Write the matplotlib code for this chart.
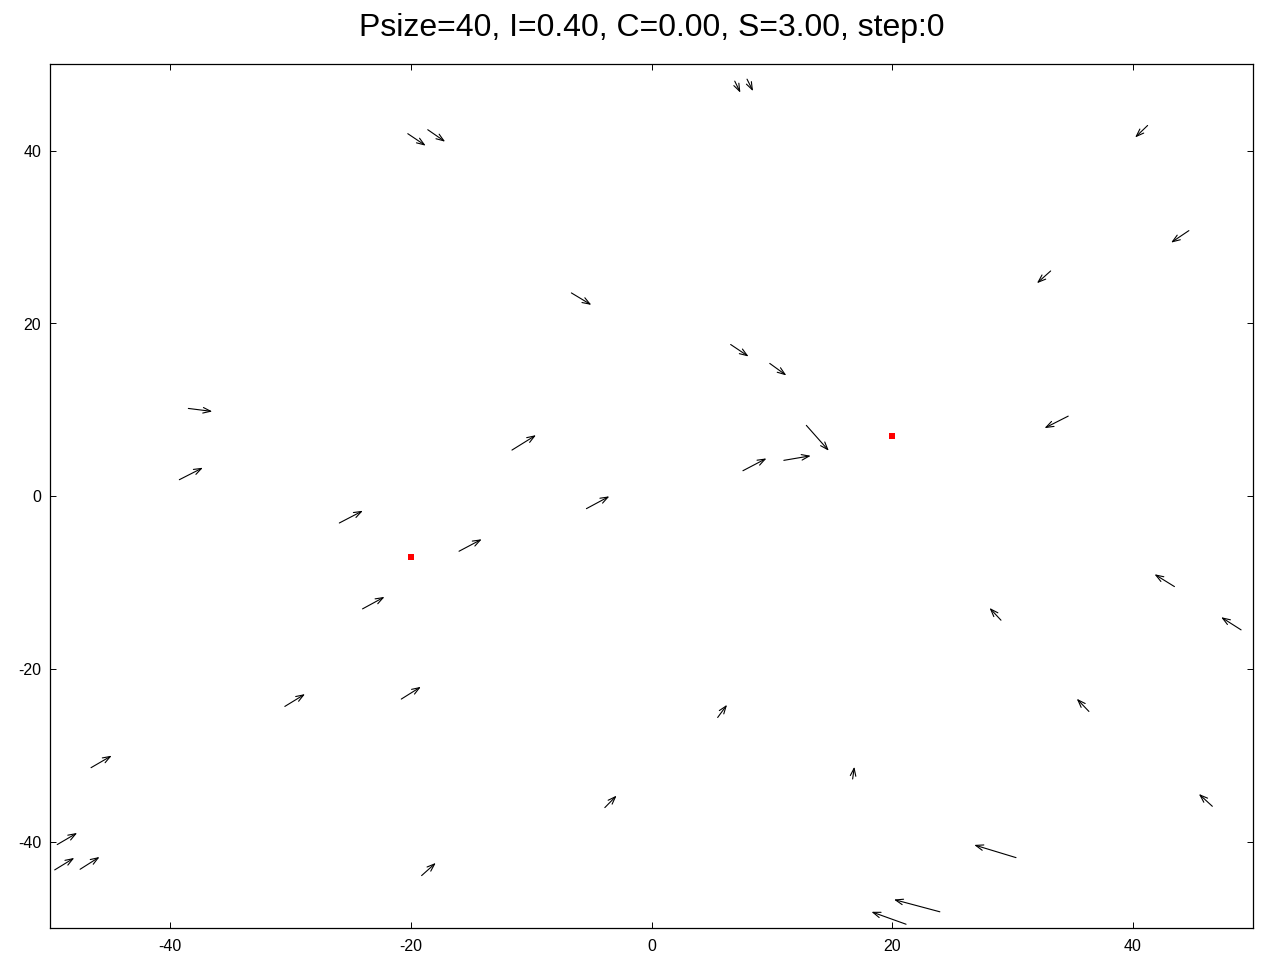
import matplotlib
matplotlib.use("Agg")
import matplotlib.pyplot as plt

plt.rcParams['font.family'] = ['Liberation Sans', 'DejaVu Sans']
plt.rcParams['axes.unicode_minus'] = False

title_text = "Psize=40, I=0.40, C=0.00, S=3.00, step:0"

# arrow tails
tail_x = [-20.26, -18.60, 6.92, 7.94, 41.24, 44.67, 33.18, -6.66, 6.58, 9.83,
          -38.50, 34.64, 12.87, -11.60, -39.25, 7.60, 11.00, -5.41, -25.95, -16.00,
          -24.02, 43.47, 29.05, 49.01, -30.48, -20.80, 36.36, 5.50, -46.59, 16.72,
          -3.88, 46.62, -49.40, 30.30, -49.61, -47.50, -19.11, 23.97, 21.16]
tail_y = [41.97, 42.43, 48.05, 48.28, 42.92, 30.75, 26.08, 23.54, 17.57, 15.38,
          10.17, 9.28, 8.21, 5.35, 1.92, 2.96, 4.16, -1.43, -3.09, -6.36,
          -13.03, -10.45, -14.34, -15.46, -24.32, -23.47, -24.90, -25.60, -31.41, -32.72,
          -36.03, -35.88, -40.31, -41.82, -43.24, -43.17, -43.90, -48.09, -49.53]
# arrow components
vec_dx = [1.49, 1.45, 0.47, 0.50, -1.04, -1.48, -1.14, 1.66, 1.49, 1.38,
          1.99, -1.97, 1.87, 2.00, 1.96, 1.96, 2.24, 1.91, 1.96, 1.89,
          1.83, -1.66, -0.95, -1.66, 1.68, 1.63, -1.01, 0.78, 1.72, 0.14,
          0.98, -1.12, 1.66, -3.48, 1.63, 1.62, 1.18, -3.82, -2.88]
vec_dy = [-1.39, -1.39, -1.34, -1.39, -1.39, -1.39, -1.42, -1.39, -1.39, -1.39,
          -0.35, -1.39, -2.94, 1.73, 1.39, 1.43, 0.53, 1.43, 1.42, 1.39,
          1.39, 1.43, 1.42, 1.47, 1.43, 1.42, 1.47, 1.47, 1.39, 1.42,
          1.39, 1.43, 1.35, 1.47, 1.39, 1.43, 1.47, 1.42, 1.44]

# red points
point_x = [20, -20]
point_y = [7, -7]

x_ticks = [-40, -20, 0, 20, 40]
y_ticks = [-40, -20, 0, 20, 40]

fig = plt.figure(figsize=(12.8, 9.6), dpi=100)
ax = fig.add_axes([50/1280, 1 - 928.3/960, (1253 - 50)/1280, (928.3 - 64.3)/960])
ax.set_xlim(-50, 50)
ax.set_ylim(-50, 50)

for x0, y0, dx, dy in zip(tail_x, tail_y, vec_dx, vec_dy):
    ax.annotate("", xy=(x0 + dx, y0 + dy), xytext=(x0, y0), xycoords='data',
                textcoords='data',
                arrowprops=dict(arrowstyle='->,head_length=0.55,head_width=0.2',
                                color='black', lw=0.8, shrinkA=0, shrinkB=0))

ax.plot(point_x, point_y, linestyle='none', marker='s', markersize=5,
        markerfacecolor='red', markeredgecolor='red', markeredgewidth=0)

ax.set_xticks(x_ticks)
ax.set_yticks(y_ticks)
ax.tick_params(direction='in', length=4.3, width=0.7, top=True, right=True,
               labelsize=11.5, colors='black')
ax.tick_params(axis='x', pad=7.5)
ax.tick_params(axis='y', pad=6.3)
for s in ax.spines.values():
    s.set_linewidth(0.9)

fig.text(651.5/1280, 1 - 36/960, title_text, ha='center', va='baseline', fontsize=23)

fig.savefig("out.png", dpi=100)
